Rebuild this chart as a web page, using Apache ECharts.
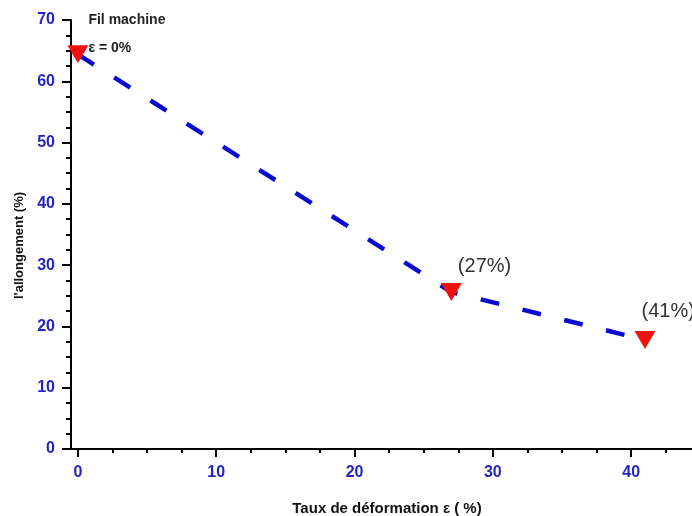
<!DOCTYPE html>
<html>
<head>
<meta charset="utf-8">
<style>
  html, body { margin: 0; padding: 0; background: #fff; }
  #chart { width: 692px; height: 516px; }
</style>
<script src="https://cdn.jsdelivr.net/npm/echarts@6/dist/echarts.min.js"></script>
</head>
<body>
<div id="chart"></div>
<script>
// Taux de déformation (%) and elongation at break (%)
const deformation = [0, 27, 41];
const allongement = [64.4, 25.6, 17.8];
const pointLabels = ['Fil machine\nε = 0%', '(27%)', '(41%)'];

const xMajorTicks = [0, 10, 20, 30, 40];
const xMinorTicks = [2.5, 5, 7.5, 12.5, 15, 17.5, 22.5, 25, 27.5, 32.5, 35, 37.5, 42.5];
const yMinorTicks = [2.5, 5, 7.5, 12.5, 15, 17.5, 22.5, 25, 27.5, 32.5, 35, 37.5,
                     42.5, 45, 47.5, 52.5, 55, 57.5, 62.5, 65, 67.5];

const FONT = 'Arial, "Liberation Sans", sans-serif';
const TICK_BLUE = '#2424c4';

const labelStyles = [
  { position: 'right', distance: 0, offset: [0, -20], align: 'left',
    fontSize: 14, fontWeight: 'bold', color: '#222', lineHeight: 27.5 },
  { position: 'right', distance: 0, offset: [-4, -26], align: 'left',
    fontSize: 20, color: '#333' },
  { position: 'right', distance: 0, offset: [-14, -28], align: 'left',
    fontSize: 20, color: '#333' }
];

const seriesData = deformation.map((x, i) => ({
  value: [x, allongement[i]],
  label: Object.assign({ show: true, formatter: pointLabels[i], fontFamily: FONT }, labelStyles[i])
}));

const tickLine = { color: '#000', width: 2 };

const chart = echarts.init(document.getElementById('chart'), null, { renderer: 'canvas' });

chart.setOption({
  animation: false,
  backgroundColor: '#fff',
  grid: { left: 71, right: 0, top: 20, bottom: 67, containLabel: false, outerBoundsMode: 'none' },
  xAxis: [
    {
      type: 'value',
      min: -0.5,
      max: 44.4,
      position: 'bottom',
      name: 'Taux de déformation ε ( %)',
      nameLocation: 'middle',
      nameGap: 52,
      nameTextStyle: { fontFamily: FONT, fontSize: 15, fontWeight: 'bold', color: '#111', padding: [0, 0, 0, 11] },
      axisLine: { show: true, onZero: false, lineStyle: tickLine },
      axisTick: { show: true, inside: false, length: 8, customValues: xMajorTicks, lineStyle: tickLine },
      axisLabel: { show: true, customValues: xMajorTicks, margin: 16, fontFamily: FONT, fontSize: 16, fontWeight: 'bold', color: TICK_BLUE },
      splitLine: { show: false }
    },
    {
      type: 'value',
      min: -0.5,
      max: 44.4,
      position: 'bottom',
      axisLine: { show: false, onZero: false },
      axisTick: { show: true, inside: false, length: 4, customValues: xMinorTicks, lineStyle: tickLine },
      axisLabel: { show: false },
      splitLine: { show: false }
    }
  ],
  yAxis: [
    {
      type: 'value',
      min: 0,
      max: 70,
      interval: 10,
      position: 'left',
      name: "l'allongement (%)",
      nameLocation: 'middle',
      nameGap: 38,
      nameTextStyle: { fontFamily: FONT, fontSize: 13, fontWeight: 'bold', color: '#111', padding: [0, 22, 0, 0] },
      axisLine: { show: true, onZero: false, lineStyle: tickLine },
      axisTick: { show: true, inside: false, length: 9, lineStyle: tickLine },
      axisLabel: { margin: 16, fontFamily: FONT, fontSize: 16, fontWeight: 'bold', color: TICK_BLUE },
      splitLine: { show: false }
    },
    {
      type: 'value',
      min: 0,
      max: 70,
      position: 'left',
      offset: 0,
      axisLine: { show: false, onZero: false },
      axisTick: { show: true, inside: false, length: 5, customValues: yMinorTicks, lineStyle: tickLine },
      axisLabel: { show: false },
      splitLine: { show: false }
    }
  ],
  series: [
    {
      type: 'line',
      xAxisIndex: 0,
      yAxisIndex: 0,
      data: seriesData,
      symbol: 'path://M0,0 L20,0 L10,17 Z',
      symbolSize: [21, 18],
      showAllSymbol: true,
      itemStyle: { color: '#f01010' },
      lineStyle: { color: '#0808d0', width: 4.5, type: [19, 24] },
      clip: false
    }
  ]
});
</script>
</body>
</html>
